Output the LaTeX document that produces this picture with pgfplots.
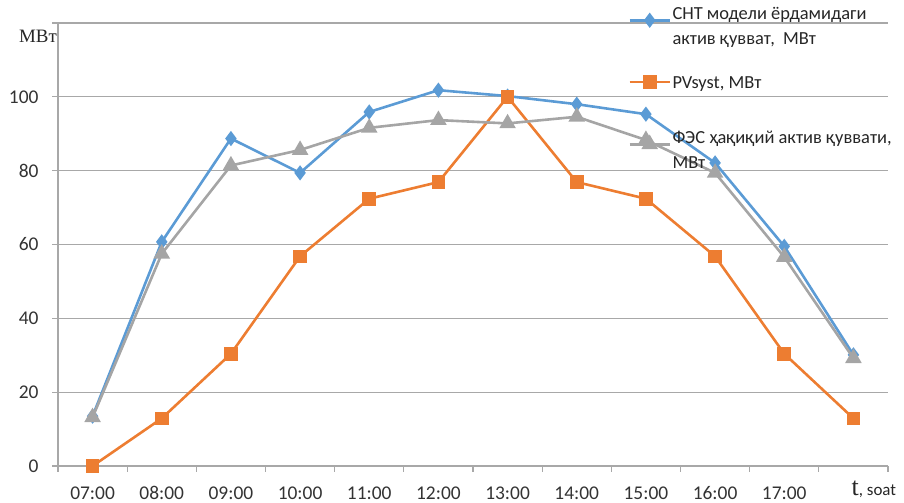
\documentclass[border=0pt]{standalone}
\usepackage{fontspec}
\setmainfont{Carlito}
\newfontfamily\serif{Liberation Serif}
\usepackage{pgfplots}
\pgfplotsset{compat=1.18}
\definecolor{sblue}{HTML}{5B9BD5}
\definecolor{sorange}{HTML}{ED7D31}
\definecolor{sgray}{HTML}{A5A5A5}
\definecolor{gridc}{HTML}{A8A8A8}
\begin{document}
\begin{tikzpicture}
\useasboundingbox (0,0) rectangle (904bp,503bp);
\begin{axis}[
  at={(58bp,37bp)}, anchor=south west,
  scale only axis, width=830bp, height=443bp,
  xmin=-0.5, xmax=11.5, ymin=0, ymax=120,
  clip mode=individual,
  axis x line*=bottom, axis y line*=left,
  axis line style={draw=gridc, line width=1.2bp, -},
  xtick={-0.5,0.5,...,11.5}, xticklabels={},
  extra x ticks={0,...,10},
  extra x tick labels={07:00,08:00,09:00,10:00,11:00,12:00,13:00,14:00,15:00,16:00,17:00},
  extra x tick style={major tick length=0pt, grid=none},
  ytick={0,20,...,120},
  yticklabels={0,20,40,60,80,100,{}},
  ymajorgrids=true,
  grid style={draw=gridc, line width=1.2bp},
  tick style={draw=gridc, line width=1.2bp},
  tick align=outside, major tick length=6bp,
  /pgf/number format/assume math mode=true,
  tick label style={font=\fontsize{19.5}{21}\selectfont, text=black!80},
  x tick label style={yshift=-17bp},
  y tick label style={xshift=-10bp},
  legend style={at={(rel axis cs:0.687,1.04)}, anchor=north west, draw=none, fill=none,
    font=\fontsize{18.5}{25}\selectfont, text=black!85,
    row sep=28bp, inner sep=0pt,
    nodes={inner sep=1.5bp}},
  legend cell align=left,
  legend image code/.code={\draw[mark repeat=2,mark phase=2,#1] plot coordinates {(0bp,6bp) (20bp,6bp) (40bp,6bp)};},
]
\addplot[sblue, line width=2.6bp, mark=diamond*, mark size=5.5bp, mark options={solid}] coordinates {
(0,13.5) (1,60.7) (2,88.7) (3,79.4) (4,95.9) (5,101.8) (6,100.2) (7,98.0) (8,95.3) (9,82.1) (10,59.5) (11,30.1)};
\addlegendentry[align=left]{СНТ модели ёрдамидаги\\актив қувват,\ \ МВт}
\addplot[sorange, line width=2.6bp, mark=square*, mark size=5.5bp] coordinates {
(0,0) (1,12.9) (2,30.4) (3,56.8) (4,72.4) (5,76.9) (6,100.0) (7,76.9) (8,72.4) (9,56.8) (10,30.4) (11,12.9)};
\addlegendentry[align=left]{PVsyst, МВт\\[-15bp]\mbox{}}
\addplot[sgray, line width=2.6bp, mark=triangle*, mark size=7bp] coordinates {
(0,13.2) (1,57.5) (2,81.4) (3,85.6) (4,91.6) (5,93.7) (6,92.8) (7,94.6) (8,88.3) (9,79.4) (10,56.6) (11,29.2)};
\addlegendentry[align=left]{ФЭС ҳақиқий актив қуввати,\\МВт}
\node[anchor=east, inner sep=0pt, text=black!85, font=\serif\fontsize{19}{22}\selectfont] at ([xshift=-1bp]rel axis cs:0,0.9707) {МВт};
\node[anchor=base west, inner sep=0pt, text=black!85] at ([xshift=-2bp,yshift=-29bp]axis cs:11,0) {{\serif\fontsize{26}{26}\selectfont t}{\fontsize{17}{17}\selectfont, soat}};
\end{axis}
\end{tikzpicture}
\end{document}
